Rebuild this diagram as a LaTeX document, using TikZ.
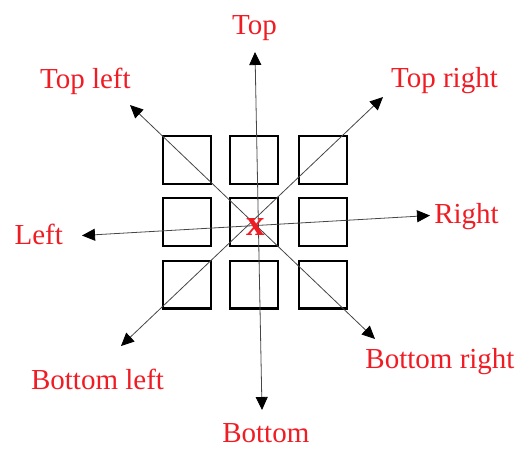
\documentclass[tikz,border=0pt]{standalone}
\usepackage{fontspec}
\setmainfont{Liberation Serif}
\usetikzlibrary{arrows.meta}
\definecolor{lblred}{RGB}{240,28,36}
\definecolor{linegray}{RGB}{70,70,70}
\begin{document}
\begin{tikzpicture}[x=1pt,y=-1pt,
  cell/.style={draw=black,line width=2.2pt,minimum size=47.8pt,inner sep=0pt},
  dir/.style={draw=linegray,line width=0.8pt,
    {Triangle[length=13pt,width=12pt,fill=black,color=black]}-{Triangle[length=13pt,width=12pt,fill=black,color=black]}},
  lbl/.style={text=lblred,font=\fontsize{29}{34}\selectfont,inner sep=0pt,anchor=base}]
\useasboundingbox (0,0) rectangle (519,448);
% grid of squares
\foreach \c/\x in {1/187,2/254.2,3/322.8}{
  \foreach \r/\y in {1/159.7,2/221.7,3/284.5}{
    \node[cell] (s\r\c) at (\x,\y) {};
  }
}
% arrow end points
\coordinate (tT) at (255,52);
\coordinate (tB) at (262,410);
\coordinate (tL) at (82,235.5);
\coordinate (tR) at (430,215.5);
\coordinate (tTL) at (130,105);
\coordinate (tBR) at (375,339);
\coordinate (tTR) at (383,97);
\coordinate (tBL) at (121,346);
\draw[dir] (tT) -- (tB);
\draw[dir] (tL) -- (tR);
\draw[dir] (tTL) -- (tBR);
\draw[dir] (tTR) -- (tBL);
% centre mark
\node[text=lblred,inner sep=0pt,font=\fontsize{37}{40}\selectfont\bfseries] (mark) at (256,227) {x};
% labels
\node[lbl] (lT) at (254.5,34.3) {Top};
\node[lbl] (lTL) at (85.4,88.3) {Top left};
\node[lbl] (lTR) at (444.5,87.3) {Top right};
\node[lbl] (lL) at (38.7,244.3) {Left};
\node[lbl] (lR) at (466.5,223.3) {Right};
\node[lbl] (lBR) at (440,368.3) {Bottom right};
\node[lbl] (lBL) at (97.5,389.3) {Bottom left};
\node[lbl] (lB) at (265.8,442.5) {Bottom};
\end{tikzpicture}
\end{document}
